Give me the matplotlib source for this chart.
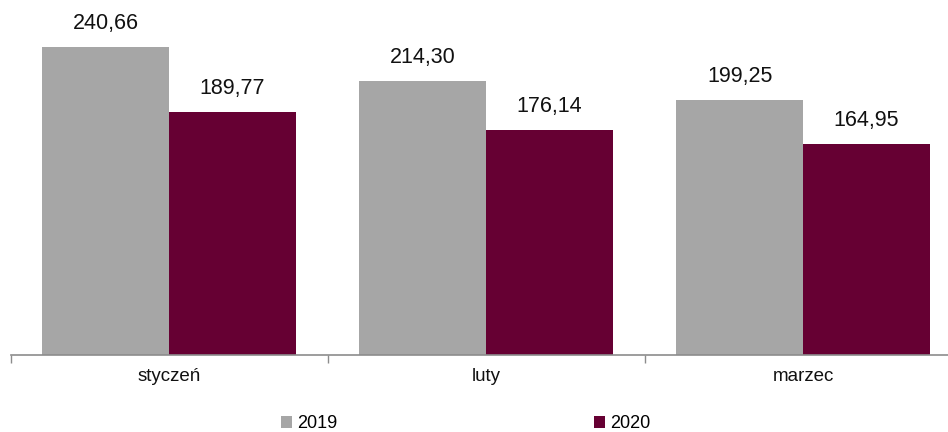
import numpy as np
import matplotlib
matplotlib.use("Agg")
import matplotlib.pyplot as plt

plt.rcParams['font.family'] = ['Liberation Sans', 'DejaVu Sans']

months = ["styczeń", "luty", "marzec"]
values_2019 = [240.66, 214.30, 199.25]
values_2020 = [189.77, 176.14, 164.95]
series = ["2019", "2020"]
colors = ["#A6A6A6", "#660033"]

fig = plt.figure(figsize=(9.48, 4.32), dpi=100)
W, H = 948, 432
# axes spans 10.5..961.5 px horizontally (right edge runs off the canvas)
ax = fig.add_axes([10.5 / W, (H - 354.5) / H, 951 / W, 344.7 / H])

x = np.arange(len(months))
bw = 0.40
b1 = ax.bar(x - bw / 2, values_2019, bw, color=colors[0], label=series[0])
b2 = ax.bar(x + bw / 2, values_2020, bw, color=colors[1], label=series[1])

for bars, vals in ((b1, values_2019), (b2, values_2020)):
    for rect, v in zip(bars, vals):
        ax.annotate(f"{v:.2f}".replace(".", ","),
                    (rect.get_x() + rect.get_width() / 2, v),
                    xytext=(0, 13), textcoords="offset pixels",
                    ha="center", va="bottom", fontsize=15.5, color="#111111")

ax.set_xlim(-0.5, 2.5)
ax.set_ylim(0, 270)
ax.set_yticks([])
for s in ("top", "right", "left"):
    ax.spines[s].set_visible(False)
ax.spines["bottom"].set_color("#8c8c8c")
ax.spines["bottom"].set_linewidth(1.2)

# category ticks sit between the groups
ax.set_xticks([-0.5, 0.5, 1.5, 2.5])
ax.set_xticklabels([])
ax.tick_params(axis="x", length=6, color="#8c8c8c", width=1)
for xi, m in zip(x, months):
    ax.text(xi, -17, m, ha="center", va="center", fontsize=13.5,
            transform=ax.transData, color="#111111")

fig.legend(handles=[b1, b2], labels=series, loc="center",
           bbox_to_anchor=(466 / W, 1 - 424 / H), ncol=2, frameon=False,
           fontsize=13, handlelength=0.6, handleheight=0.6,
           handletextpad=0.3, columnspacing=14.2)

fig.savefig("out.png", dpi=100)
